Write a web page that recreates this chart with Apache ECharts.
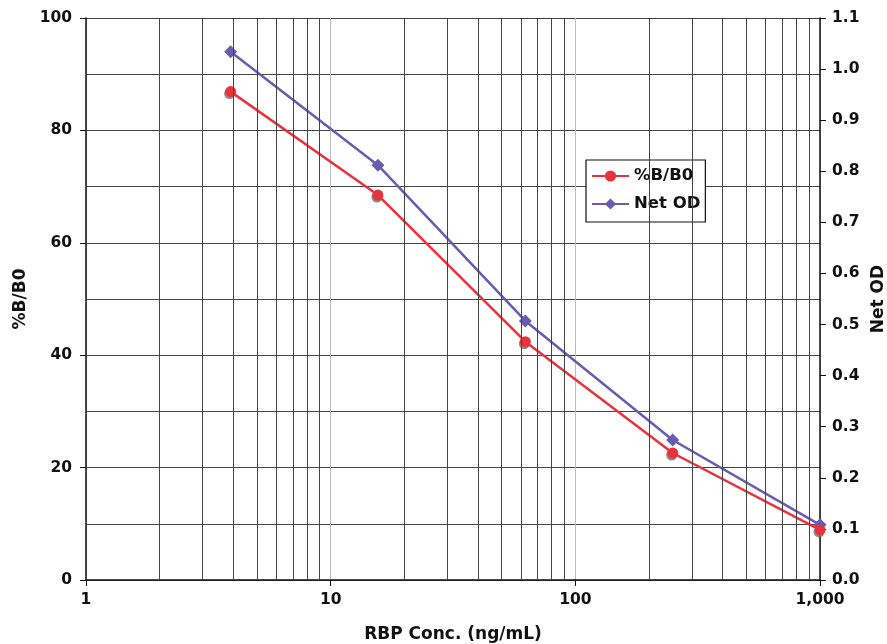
<!DOCTYPE html>
<html>
<head>
<meta charset="utf-8">
<script src="https://cdn.jsdelivr.net/npm/echarts@6/dist/echarts.min.js"></script>
<style>html,body{margin:0;padding:0;background:#fff}#c{width:887px;height:644px}</style>
</head>
<body>
<div id="c"></div>
<script>
const concentrations = [3.9, 15.6, 62.5, 250, 1000];
const pctB_B0 = [86.9, 68.5, 42.4, 22.6, 8.9];
const netOD = [1.034, 0.812, 0.507, 0.274, 0.108];
const minorGridX = [2,3,4,5,6,7,8,9,20,30,40,50,60,70,80,90,200,300,400,500,600,700,800,900];
const xTickLabels = {1:'1',10:'10',100:'100',1000:'1,000'};

const FONT = 'DejaVu Sans';
const chart = echarts.init(document.getElementById('c'));
const lbl = {color:'#111', fontFamily:FONT, fontWeight:'bold', fontSize:15.5};
const nameStyle = {color:'#111', fontFamily:FONT, fontWeight:'bold', fontSize:17};
chart.setOption({
  animation:false,
  backgroundColor:'#fff',
  grid:{left:86, right:67, top:18, bottom:64, containLabel:false, outerBoundsMode:'none'},
  legend:{
    left:586, top:160, orient:'vertical',
    backgroundColor:'#fff', borderColor:'#111', borderWidth:1.2, borderRadius:0,
    padding:[7,5,9,5], itemGap:10, itemWidth:37, itemHeight:14,
    textStyle:{color:'#111', fontFamily:FONT, fontWeight:'bold', fontSize:16.5, lineHeight:18},
    data:['%B/B0','Net OD']
  },
  xAxis:{
    type:'log', min:1, max:1000, logBase:10,
    name:'RBP Conc. (ng/mL)', nameLocation:'middle', nameGap:46,
    nameTextStyle:nameStyle,
    axisLine:{show:true, lineStyle:{color:'#111', width:1.5}},
    axisTick:{show:true, length:6, lineStyle:{color:'#111'}},
    axisLabel:Object.assign({margin:12, formatter:v=>xTickLabels[v] !== undefined ? xTickLabels[v] : ''}, lbl),
    splitLine:{show:true, lineStyle:{color:'#bdbdbd', width:1}}
  },
  yAxis:[{
    type:'value', min:0, max:100, interval:20,
    name:'%B/B0', nameLocation:'middle', nameGap:57, nameRotate:90,
    nameTextStyle:nameStyle,
    axisLine:{show:true, lineStyle:{color:'#111', width:1.5}},
    axisTick:{show:true, length:6, lineStyle:{color:'#111'}},
    axisLabel:Object.assign({margin:14}, lbl),
    splitLine:{show:true, lineStyle:{color:'#444', width:1}},
    minorTick:{show:false, splitNumber:2},
    minorSplitLine:{show:true, lineStyle:{color:'#444', width:1}}
  },{
    type:'value', min:0, max:1.1, interval:0.1, position:'right',
    name:'Net OD', nameLocation:'middle', nameGap:47, nameRotate:90,
    nameTextStyle:nameStyle,
    axisLine:{show:true, lineStyle:{color:'#111', width:1.5}},
    axisTick:{show:true, length:6, lineStyle:{color:'#111'}},
    axisLabel:Object.assign({margin:12, formatter:v=>v.toFixed(1)}, lbl),
    splitLine:{show:false}
  }],
  series:[{
    name:'_grid', type:'line', data:[], z:1, silent:true,
    markLine:{silent:true, symbol:'none', label:{show:false}, animation:false,
      lineStyle:{color:'#444', width:1, type:'solid'},
      data:minorGridX.map(v=>({xAxis:v}))}
  },{
    name:'%B/B0', type:'line', yAxisIndex:0, z:4,
    data:concentrations.map((c,i)=>[c,pctB_B0[i]]),
    symbol:'circle', symbolSize:11,
    lineStyle:{color:'#e8333d', width:2.5},
    itemStyle:{color:'#e8333d', shadowColor:'rgba(110,110,110,0.8)', shadowOffsetX:-1, shadowOffsetY:2, shadowBlur:0}
  },{
    name:'Net OD', type:'line', yAxisIndex:1, z:3,
    data:concentrations.map((c,i)=>[c,netOD[i]]),
    symbol:'diamond', symbolSize:13,
    lineStyle:{color:'#6a5bb0', width:2.5},
    itemStyle:{color:'#6a5bb0'}
  }]
});
</script>
</body>
</html>
